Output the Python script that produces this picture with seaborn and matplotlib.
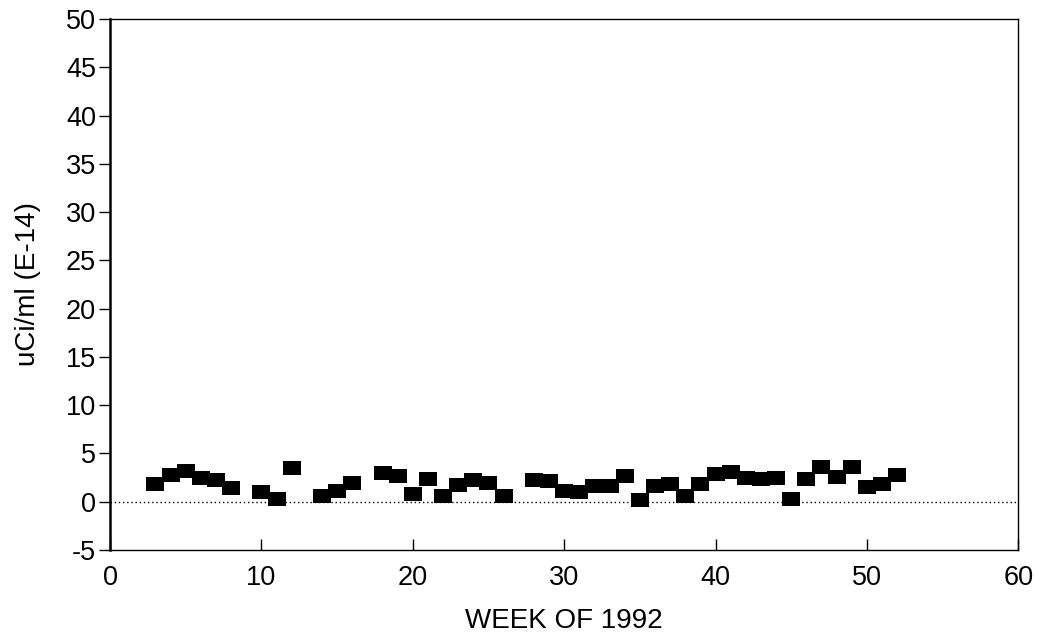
import numpy as np
import pandas as pd
import matplotlib
matplotlib.use("Agg")
import matplotlib.pyplot as plt
import seaborn as sns

# ---- Data ----
weeks = [3, 4, 5, 6, 7, 8, 10, 11, 12, 14, 15, 16, 18, 19, 20, 21, 22, 23, 24, 25, 26,
         28, 29, 30, 31, 32, 33, 34, 35, 36, 37, 38, 39, 40, 41, 42, 43, 44, 45, 46,
         47, 48, 49, 50, 51, 52]
activity = [1.8, 2.75, 3.2, 2.4, 2.2, 1.45, 1.0, 0.3, 3.5, 0.6, 1.1, 1.9, 2.95, 2.7,
            0.8, 2.3, 0.6, 1.75, 2.25, 1.9, 0.6, 2.2, 2.1, 1.1, 1.0, 1.6, 1.6, 2.65,
            0.15, 1.6, 1.8, 0.55, 1.8, 2.85, 3.05, 2.4, 2.3, 2.4, 0.3, 2.3, 3.6, 2.6,
            3.6, 1.55, 1.8, 2.75]

x_ticks = [0, 10, 20, 30, 40, 50, 60]
y_ticks = [-5, 0, 5, 10, 15, 20, 25, 30, 35, 40, 45, 50]

# slightly wide box marker, like the original plot
BOX = [(-1.2, -1), (1.2, -1), (1.2, 1), (-1.2, 1), (-1.2, -1)]

def main():
    df = pd.DataFrame({"week": weeks, "uci": activity})

    sns.set_theme(style="white")
    plt.rcParams["font.family"] = ["Liberation Sans", "DejaVu Sans"]
    plt.rcParams["axes.unicode_minus"] = False
    plt.rcParams["text.color"] = "black"
    plt.rcParams["axes.labelcolor"] = "black"
    plt.rcParams["xtick.color"] = "black"
    plt.rcParams["ytick.color"] = "black"

    fig = plt.figure(figsize=(10.38, 6.35), dpi=100)
    ax = fig.add_axes([0.106, 0.134, 0.875, 0.836])

    ax.axhline(0, color="black", linestyle=(0, (1, 2)), linewidth=1.0, zorder=1)
    sns.scatterplot(data=df, x="week", y="uci", marker=BOX, s=150, color="black",
                    edgecolor="black", linewidth=0, ax=ax, zorder=3)

    ax.set_xlim(0, 60)
    ax.set_ylim(-5, 50)
    ax.set_xticks(x_ticks)
    ax.set_yticks(y_ticks)
    ax.tick_params(axis="x", direction="in", length=8, width=1, labelsize=19.5, pad=11)
    ax.tick_params(axis="y", direction="out", length=8, width=1, labelsize=19.5, pad=2)
    ax.tick_params(left=True, bottom=True)
    for side in ["bottom", "right", "top"]:
        ax.spines[side].set_color("black")
        ax.spines[side].set_linewidth(1.0)
    ax.spines["left"].set_color("black")
    ax.spines["left"].set_linewidth(1.8)

    ax.set_xlabel("WEEK OF 1992", fontsize=20, labelpad=12)
    ax.set_ylabel("uCi/ml (E-14)", fontsize=20, labelpad=18)

    fig.savefig("out.png", dpi=100)
    plt.close(fig)

if __name__ == "__main__":
    main()
